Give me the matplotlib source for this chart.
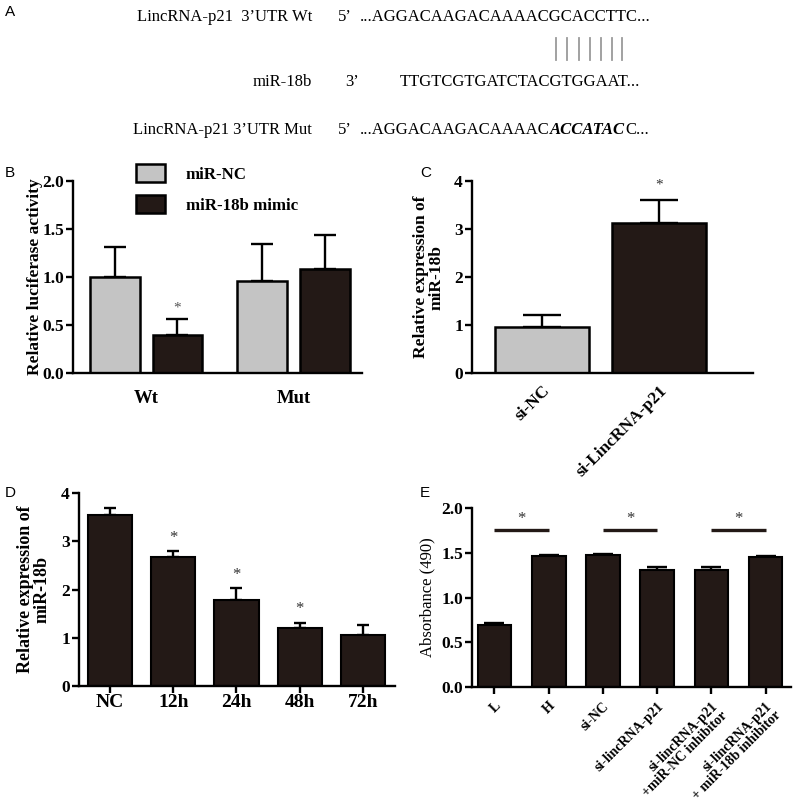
import numpy as np
import matplotlib
matplotlib.use("Agg")
import matplotlib.pyplot as plt
from matplotlib.lines import Line2D
from matplotlib.font_manager import FontProperties
from matplotlib.ticker import FormatStrFormatter

plt.rcParams['font.family'] = ['Liberation Serif', 'DejaVu Serif']
plt.rcParams['font.weight'] = 'bold'

# --- data -------------------------------------------------------------
# panel A: sequences
row_labels = ["LincRNA-p21  3\u2019UTR Wt", "miR-18b", "LincRNA-p21 3\u2019UTR Mut"]
row_ends = ["5\u2019", "3\u2019", "5\u2019"]
wt_seq = "...AGGACAAGACAAAACGCACCTTC..."
mir_seq = "TTGTCGTGATCTACGTGGAAT..."
mut_parts = ["...AGGACAAGACAAAAC", "ACCATAC", "C..."]
seed_idx = list(range(18, 25))  # chars of wt_seq paired with miR-18b

# panel B: luciferase
groups_b = ["Wt", "Mut"]
nc_b = [1.00, 0.96]
nc_b_err = [0.31, 0.38]
mimic_b = [0.40, 1.08]
mimic_b_err = [0.16, 0.36]
legend_b = ["miR-NC", "miR-18b mimic"]

# panel C
labels_c = ["si-NC", "si-LincRNA-p21"]
vals_c = [0.96, 3.12]
err_c = [0.25, 0.49]

# panel D
labels_d = ["NC", "12h", "24h", "48h", "72h"]
vals_d = [3.55, 2.68, 1.79, 1.21, 1.06]
err_d = [0.13, 0.11, 0.24, 0.10, 0.21]
stars_d = [1, 2, 3]

# panel E
labels_e = ["L", "H", "si-NC", "si-lincRNA-p21",
            "si-lincRNA-p21\n+miR-NC inhibitor",
            "si-lincRNA-p21\n+ miR-18b inhibitor"]
vals_e = [0.69, 1.46, 1.47, 1.31, 1.31, 1.45]
err_e = [0.02, 0.02, 0.02, 0.03, 0.03, 0.01]
pairs_e = [(0, 1), (2, 3), (4, 5)]
bracket_e = 1.75

DARK = '#231916'
GRAY = '#c4c4c4'
W, H = 800, 808


def fx(px):
    return px / W


def fy(py):
    return 1 - py / H


def style(ax, ymax, yticks, xlim, fmt=None):
    ax.set_ylim(0, ymax)
    ax.set_yticks(yticks)
    ax.set_xlim(*xlim)
    ax.spines['top'].set_visible(False)
    ax.spines['right'].set_visible(False)
    ax.spines['left'].set_linewidth(1.7)
    ax.spines['bottom'].set_linewidth(1.7)
    ax.tick_params(axis='y', direction='out', length=5, width=1.7, labelsize=12.5, pad=1.5)
    if fmt:
        ax.yaxis.set_major_formatter(FormatStrFormatter(fmt))
    ax.set_facecolor('none')


def bold_ticks(ax):
    for t in ax.get_xticklabels() + ax.get_yticklabels():
        t.set_fontweight('bold')


def up_err(ax, x, vals, err, capsize):
    ax.errorbar(x, vals, yerr=[np.zeros(len(vals)), err], fmt='none',
                ecolor='black', elinewidth=1.7, capsize=capsize, capthick=1.7,
                zorder=1, clip_on=False)


fig = plt.figure(figsize=(8, 8.08), dpi=100)
r = fig.canvas.get_renderer()

# --- panel A ----------------------------------------------------------
seq_font = FontProperties(family='Liberation Serif', weight='normal', size=12)
row_y = [17, 82, 130]
end_x = [338, 345, 338]
seq_x = [360, 400, 360]
for lab, e, y, ex in zip(row_labels, row_ends, row_y, end_x):
    fig.text(fx(312), fy(y), lab, ha='right', va='center', fontproperties=seq_font)
    fig.text(fx(ex), fy(y), e, ha='left', va='center', fontproperties=seq_font)
fig.text(fx(seq_x[0]), fy(row_y[0]), wt_seq, ha='left', va='center', fontproperties=seq_font)
fig.text(fx(seq_x[1]), fy(row_y[1]), mir_seq, ha='left', va='center', fontproperties=seq_font)

# mutant line, mutated bases in bold italic
x0 = seq_x[2]
mut_font = FontProperties(family='Liberation Serif', weight='bold', style='italic', size=12)
for i, part in enumerate(mut_parts):
    fp = mut_font if i == 1 else seq_font
    fig.text(fx(x0), fy(row_y[2]), part, ha='left', va='center', fontproperties=fp)
    w, _, _ = r.get_text_width_height_descent(part, fp, ismath=False)
    x0 += w

# pairing ticks under the seed region
for i in seed_idx:
    a, _, _ = r.get_text_width_height_descent(wt_seq[:i], seq_font, ismath=False)
    b, _, _ = r.get_text_width_height_descent(wt_seq[:i + 1], seq_font, ismath=False)
    xc = seq_x[0] + (a + b) / 2
    fig.add_artist(Line2D([fx(xc), fx(xc)], [fy(38), fy(60)], color='#9a9a9a',
                          lw=1.3, transform=fig.transFigure))

# panel letters
for letter, (px, py) in zip("ABCDE", [(5, 12), (5, 173), (420, 173), (5, 493), (420, 493)]):
    fig.text(fx(px), fy(py), letter, ha='left', va='center', family='Liberation Sans',
             weight='normal', fontsize=11)

# --- panel B ----------------------------------------------------------
axB = fig.add_axes([fx(73), fy(373), 289 / W, 192 / H])
xb = np.arange(len(groups_b))
off, bw = 0.212, 0.336
axB.bar(xb - off, nc_b, bw, color=GRAY, edgecolor='black', lw=1.8, label=legend_b[0], zorder=2)
axB.bar(xb + off, mimic_b, bw, color=DARK, edgecolor='black', lw=1.8, label=legend_b[1], zorder=2)
up_err(axB, xb - off, nc_b, nc_b_err, 8)
up_err(axB, xb + off, mimic_b, mimic_b_err, 8)
style(axB, 2.0, np.arange(0, 2.01, 0.5), (-0.495, 1.464), '%.1f')
axB.set_xticks(xb)
axB.set_xticklabels(groups_b)
axB.tick_params(axis='x', length=0, labelsize=13.5, pad=12)
bold_ticks(axB)
axB.text(xb[0] + off, mimic_b[0] + mimic_b_err[0] + 0.12, '*', ha='center', va='center',
         color='#555555', fontsize=11, weight='normal')
axB.set_ylabel("Relative luciferase activity", fontsize=12.5, fontweight='bold',
               ha='center', va='center')
axB.yaxis.set_label_coords((35 - 73) / 289, 0.5)
axB.legend(loc='upper left', bbox_to_anchor=(fx(136), fy(164)), bbox_transform=fig.transFigure,
           frameon=False, borderpad=0, borderaxespad=0, handlelength=1.7, handleheight=1.25,
           labelspacing=0.75, handletextpad=1.25, prop={'weight': 'bold', 'size': 12.2})

# --- panel C ----------------------------------------------------------
axC = fig.add_axes([fx(472), fy(373), 281 / W, 192 / H])
xc = np.arange(len(labels_c))
axC.bar(xc, vals_c, 0.80, color=[GRAY, DARK], edgecolor='black', lw=1.8, zorder=2)
up_err(axC, xc, vals_c, err_c, 14)
style(axC, 4, range(0, 5), (-0.598, 1.803))
axC.set_xticks(xc)
axC.set_xticklabels(labels_c, fontsize=12.5)
axC.tick_params(axis='x', length=0, pad=7)
plt.setp(axC.get_xticklabels(), rotation=45, ha='right', rotation_mode='anchor')
bold_ticks(axC)
axC.text(xc[1], vals_c[1] + err_c[1] + 0.3, '*', ha='center', va='center',
         color='#333333', fontsize=11, weight='normal', clip_on=False)
axC.set_ylabel("Relative expression of\nmiR-18b", fontsize=12.5, fontweight='bold',
               ha='center', va='center', linespacing=1.0)
axC.yaxis.set_label_coords((429 - 472) / 281, 0.5)

# --- panel D ----------------------------------------------------------
axD = fig.add_axes([fx(79), fy(686), 316 / W, 193 / H])
xd = np.arange(len(labels_d))
axD.bar(xd, vals_d, 0.70, color=DARK, edgecolor='black', lw=1.5, zorder=2)
up_err(axD, xd, vals_d, err_d, 4.5)
style(axD, 4, range(0, 5), (-0.49, 4.506))
axD.set_xticks(xd)
axD.set_xticklabels(labels_d)
axD.tick_params(axis='x', direction='out', length=5, width=1.7, labelsize=14, pad=1)
bold_ticks(axD)
for i in stars_d:
    axD.text(xd[i], vals_d[i] + err_d[i] + 0.28, '*', ha='center', va='center',
             color='#333333', fontsize=12, weight='normal')
axD.set_ylabel("Relative expression of\nmiR-18b", fontsize=13, fontweight='bold',
               ha='center', va='center', linespacing=1.0)
axD.yaxis.set_label_coords((34 - 79) / 316, 0.5)

# --- panel E ----------------------------------------------------------
axE = fig.add_axes([fx(472), fy(687), 319 / W, 179 / H])
xe = np.arange(len(labels_e))
axE.bar(xe, vals_e, 0.62, color=DARK, edgecolor='black', lw=1.5, zorder=2)
up_err(axE, xe, vals_e, err_e, 7)
style(axE, 2.0, np.arange(0, 2.01, 0.5), (-0.415, 5.47), '%.1f')
axE.set_xticks(xe)
axE.set_xticklabels(labels_e, fontsize=10, linespacing=1.0)
axE.tick_params(axis='x', direction='out', length=5, width=1.7, pad=4)
plt.setp(axE.get_xticklabels(), rotation=45, ha='right', va='top', rotation_mode='anchor',
         multialignment='right')
bold_ticks(axE)
for a, b in pairs_e:
    axE.plot([xe[a], xe[b]], [bracket_e, bracket_e], color=DARK, lw=2.4, solid_capstyle='butt')
    axE.text((xe[a] + xe[b]) / 2, bracket_e + 0.13, '*', ha='center', va='center',
             color='#333333', fontsize=12, weight='normal')
axE.set_ylabel("Absorbance (490)", fontsize=12, fontweight='normal', ha='center', va='center')
axE.yaxis.set_label_coords((427 - 472) / 319, 0.5)

fig.savefig('out.png', dpi=100, facecolor='white')
